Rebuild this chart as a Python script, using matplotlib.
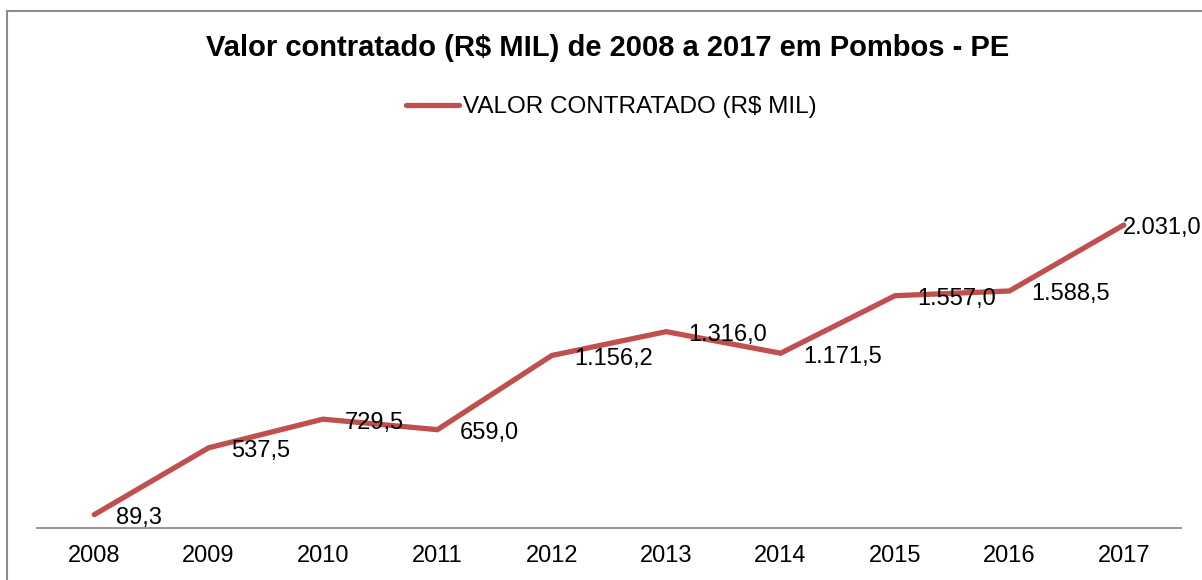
import matplotlib.pyplot as plt
from matplotlib.patches import Rectangle
from matplotlib.lines import Line2D

plt.rcParams['font.family'] = ['Liberation Sans', 'DejaVu Sans']

anos = ['2008', '2009', '2010', '2011', '2012', '2013', '2014', '2015', '2016', '2017']
valores = [89.3, 537.5, 729.5, 659.0, 1156.2, 1316.0, 1171.5, 1557.0, 1588.5, 2031.0]
rotulos = ['89,3', '537,5', '729,5', '659,0', '1.156,2', '1.316,0', '1.171,5', '1.557,0', '1.588,5', '2.031,0']

cor = '#C0504D'
W, H = 1202, 580

fig = plt.figure(figsize=(W / 100, H / 100), dpi=100)
# moldura cinza do grafico
fig.patches.append(Rectangle((7 / W, -0.1), 1.1, 1 - 11 / H + 0.1, transform=fig.transFigure,
                             fill=False, edgecolor='#8c8c8c', linewidth=1.5))

ax = fig.add_axes([37 / W, (H - 528) / H, (1181 - 37) / W, (528 - 155) / H])
x = list(range(len(anos)))
ax.plot(x, valores, color=cor, linewidth=3.8, solid_capstyle='round', solid_joinstyle='miter',
        clip_on=False)
for xi, v, r in zip(x, valores, rotulos):
    # o ultimo rotulo fica encostado no ponto para caber no grafico
    dx = 16 if xi < len(anos) - 1 else -1
    ax.annotate(r, (xi, v), xytext=(dx, -2.5), textcoords='offset points', ha='left', va='center',
                fontsize=17, color='black')

ax.set_xlim(-0.5, len(anos) - 0.5)
ax.set_ylim(0, 2500)
ax.set_xticks(x)
ax.set_xticklabels(anos, fontsize=17)
ax.tick_params(axis='x', length=0, pad=12)
ax.set_yticks([])
for s in ['top', 'right', 'left']:
    ax.spines[s].set_visible(False)
ax.spines['bottom'].set_color('#8c8c8c')
ax.spines['bottom'].set_linewidth(1.3)

fig.text(608 / W, 1 - 48 / H, 'Valor contratado (R$ MIL) de 2008 a 2017 em Pombos - PE',
         ha='center', va='center', fontsize=21, fontweight='bold')

leg = fig.legend([Line2D([], [], color=cor, linewidth=3.8, solid_capstyle='round')],
                 ['VALOR CONTRATADO (R$ MIL)'], loc='center', bbox_to_anchor=(611 / W, 1 - 107 / H),
                 frameon=False, fontsize=17.5, handlelength=2.2, handletextpad=0.15)

fig.savefig('out.png', dpi=100)
